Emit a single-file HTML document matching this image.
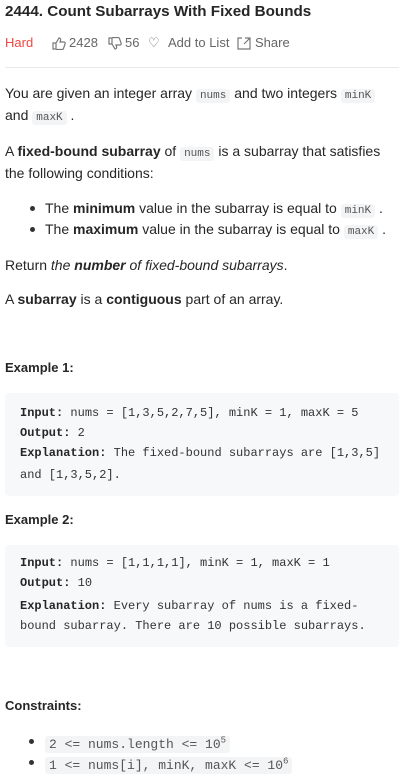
<!DOCTYPE html>
<html><head><meta charset="utf-8"><style>
html,body{margin:0;padding:0;background:#fff;width:406px;height:777px;overflow:hidden;position:relative;font-family:"Liberation Sans",sans-serif;color:#262626;}
.l{position:absolute;left:5px;white-space:nowrap;font-size:14px;line-height:20px;}
code{font-family:"Liberation Mono",monospace;font-size:11px;background:#f3f4f6;color:#555;border-radius:3px;padding:1px 4px;}
.box{position:absolute;left:5px;width:394px;background:#f7f8fa;border-radius:4px;}
.m{position:absolute;left:20px;white-space:nowrap;font-family:"Liberation Mono",monospace;font-size:12px;line-height:18px;color:#333;}
.m b{color:#262626}
.dot{position:absolute;width:5px;height:5px;border-radius:50%;background:#333;}
</style></head><body>
<div class="l" style="top:2px;font-size:15.2px;font-weight:bold;">2444. Count Subarrays With Fixed Bounds</div>
<div class="l" style="top:33px;font-size:13px;color:#666;">
<span style="color:#ef4743;">Hard</span>
<svg style="position:absolute;left:47px;top:4px" width="14" height="13" viewBox="0 0 14 13" fill="none" stroke="#777" stroke-width="1.2"><path d="M1 6h3v6H1zM4 6l3-5c1 0 2 1 1.5 2.5L8 5h4c1 0 1.5 1 1 2l-1.5 4.5c-.3.8-1 1-1.5 1H4"/></svg>
<span style="position:absolute;left:64px;">2428</span>
<svg style="position:absolute;left:103px;top:4px" width="14" height="13" viewBox="0 0 14 13" fill="none" stroke="#777" stroke-width="1.2"><path d="M1 1h3v6H1zM4 7l3 5c1 0 2-1 1.5-2.5L8 8h4c1 0 1.5-1 1-2L11.5 1.5C11.2.7 10.5.5 10 .5H4"/></svg>
<span style="position:absolute;left:120px;">56</span>
<span style="position:absolute;left:143px;">&#9825;</span><span style="position:absolute;left:163px;">Add to List</span>
<svg style="position:absolute;left:232px;top:4px" width="14" height="13" viewBox="0 0 14 13" fill="none" stroke="#777" stroke-width="1.2"><path d="M5 1H1v11h12V4M8 1h5v4M7 7l6-6"/></svg>
<span style="position:absolute;left:250px;">Share</span>
</div>
<div style="position:absolute;left:5px;top:67px;width:394px;height:1px;background:#e8e8e8;"></div>
<div class="l" style="top:83px;">You are given an integer array <code>nums</code> and two integers <code>minK</code></div>
<div class="l" style="top:105px;">and <code>maxK</code> .</div>
<div class="l" style="top:141px;">A <b>fixed-bound subarray</b> of <code>nums</code> is a subarray that satisfies</div>
<div class="l" style="top:163px;">the following conditions:</div>
<div class="dot" style="left:30px;top:206px;"></div>
<div class="l" style="left:45px;top:198px;">The <b>minimum</b> value in the subarray is equal to <code>minK</code> .</div>
<div class="dot" style="left:30px;top:227px;"></div>
<div class="l" style="left:45px;top:219px;">The <b>maximum</b> value in the subarray is equal to <code>maxK</code> .</div>
<div class="l" style="top:255px;">Return <i>the <b>number</b> of fixed-bound subarrays</i>.</div>
<div class="l" style="top:289px;">A <b>subarray</b> is a <b>contiguous</b> part of an array.</div>
<div class="l" style="top:358px;font-size:13px;font-weight:bold;">Example 1:</div>
<div class="box" style="top:393px;height:103px;"></div>
<div class="m" style="top:404px;"><b>Input:</b> nums = [1,3,5,2,7,5], minK = 1, maxK = 5</div>
<div class="m" style="top:424px;"><b>Output:</b> 2</div>
<div class="m" style="top:444px;"><b>Explanation:</b> The fixed-bound subarrays are [1,3,5]</div>
<div class="m" style="top:466px;">and [1,3,5,2].</div>
<div class="l" style="top:510px;font-size:13px;font-weight:bold;">Example 2:</div>
<div class="box" style="top:545px;height:102px;"></div>
<div class="m" style="top:554px;"><b>Input:</b> nums = [1,1,1,1], minK = 1, maxK = 1</div>
<div class="m" style="top:574px;"><b>Output:</b> 10</div>
<div class="m" style="top:597px;"><b>Explanation:</b> Every subarray of nums is a fixed-</div>
<div class="m" style="top:617px;">bound subarray. There are 10 possible subarrays.</div>
<div class="l" style="top:696px;font-size:13px;font-weight:bold;">Constraints:</div>
<div class="dot" style="left:29px;top:739px;"></div>
<div class="l" style="left:45px;top:731px;"><code style="font-size:13px;">2 &lt;= nums.length &lt;= 10<sup style="font-size:9px;">5</sup></code></div>
<div class="dot" style="left:29px;top:760px;"></div>
<div class="l" style="left:45px;top:752px;"><code style="font-size:13px;">1 &lt;= nums[i], minK, maxK &lt;= 10<sup style="font-size:9px;">6</sup></code></div>
</body></html>
